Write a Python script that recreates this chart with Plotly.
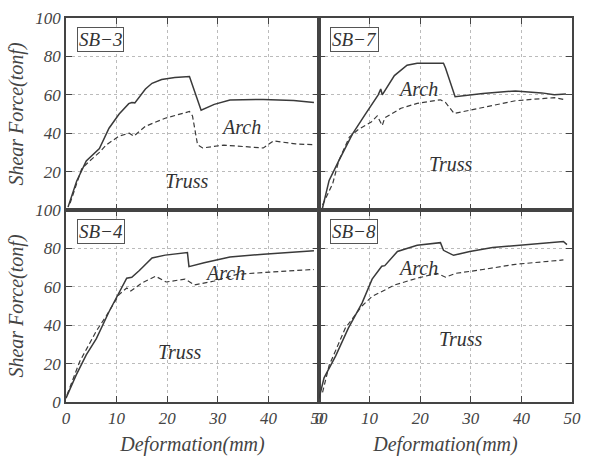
import plotly.graph_objects as go

# ---- data ----
sb3_arch_x = [0.4, 2.1, 4, 6.6, 8.5, 10.5, 12.4, 13, 13.6, 15.7, 17, 18.9, 21.5, 24.4, 26.7, 29.3, 32.4, 39, 45, 49]
sb3_arch_y = [1.5, 15, 25.6, 32, 42.6, 50, 55.4, 56, 55.8, 63, 66, 68, 69, 69.5, 52, 55, 57.3, 57.6, 57, 56]
sb3_truss_x = [0.8, 3.1, 4.7, 6.6, 8, 10.5, 12.5, 13.4, 15.7, 19.6, 24.4, 25, 26, 27, 31.2, 39, 41, 45.4, 49]
sb3_truss_y = [3.5, 21.5, 25.6, 30, 34, 38.5, 40, 38.5, 43.6, 47.8, 51.3, 49, 34, 32.3, 33.8, 32.3, 36, 34.4, 34]

sb7_arch_x = [0.6, 2, 3.9, 6.6, 9.1, 11.7, 12.2, 12.5, 14.9, 17.4, 19.4, 24.6, 25, 26.9, 32.4, 38.8, 44, 46.5, 48.8]
sb7_arch_y = [0, 15.4, 25.6, 39.5, 49.7, 60, 63, 60, 70, 75.4, 76.4, 76.4, 74, 59, 60.7, 62, 61, 60, 60.4]
sb7_truss_x = [0.7, 2.7, 3.9, 6, 7.8, 10.4, 11.5, 12.5, 13, 16.2, 19.4, 24, 25, 26.7, 28, 32.4, 38.8, 44, 46.5, 48.8]
sb7_truss_y = [2.6, 13.7, 25.6, 38, 42, 46, 49, 44, 48, 53, 55.5, 57.4, 56, 50.3, 51, 53.3, 56.9, 58, 58.5, 57.4]

sb4_arch_x = [0, 2, 4, 6, 8.5, 11, 12, 13, 14.5, 17, 19.6, 24, 24.3, 27.3, 32.4, 39, 45.4, 49]
sb4_arch_y = [2, 14, 24.5, 33, 47, 59.4, 64.5, 65, 68.5, 75, 76.5, 77.8, 70.5, 72.5, 75.5, 77, 78.3, 78.8]
sb4_truss_x = [0.2, 2.7, 6, 8, 10.5, 12, 12.8, 15, 17.7, 19.8, 23.5, 25.4, 29.3, 33.8, 45.4, 49]
sb4_truss_y = [3.7, 21, 37, 45, 56, 59.4, 57.8, 62, 65.5, 62.5, 64, 61, 63, 66.5, 68.5, 69]

sb8_arch_x = [0, 1, 3.3, 5.8, 8.5, 10.5, 12.4, 13, 15.5, 19.4, 24, 24.6, 26.6, 29.8, 34.3, 42, 48.3, 49]
sb8_arch_y = [1.8, 12.6, 24, 38.5, 51.5, 64, 70.7, 71, 78.4, 81.6, 83, 79, 76.4, 78.4, 80.5, 82, 83.6, 82]
sb8_truss_x = [0.7, 2, 5.2, 8.5, 10.5, 12.4, 15, 19.4, 23.3, 25, 27, 32.4, 38.8, 48.3]
sb8_truss_y = [5, 19, 38.5, 50, 55, 57.7, 61, 64.5, 67, 65, 67, 69, 71.7, 74]

x_ticks = [0, 10, 20, 30, 40, 50]
y_ticks = [0, 20, 40, 60, 80, 100]

panels = [
    ("SB\u22123", "x", "y", sb3_arch_x, sb3_arch_y, sb3_truss_x, sb3_truss_y, (34.5, 43), (24, 15)),
    ("SB\u22127", "x2", "y2", sb7_arch_x, sb7_arch_y, sb7_truss_x, sb7_truss_y, (19.5, 63), (26, 24)),
    ("SB\u22124", "x3", "y3", sb4_arch_x, sb4_arch_y, sb4_truss_x, sb4_truss_y, (31.5, 67), (22.5, 26)),
    ("SB\u22128", "x4", "y4", sb8_arch_x, sb8_arch_y, sb8_truss_x, sb8_truss_y, (19.5, 70), (28, 33)),
]

SERIF = "Liberation Serif, Times New Roman, serif"
LINE = "#3a3a3a"

fig = go.Figure()
annotations = []
for name, xa, ya, ax, ay, tx, ty, apos, tpos in panels:
    fig.add_trace(go.Scatter(x=ax, y=ay, xaxis=xa, yaxis=ya, mode="lines",
                             line=dict(color=LINE, width=1.5), showlegend=False))
    fig.add_trace(go.Scatter(x=tx, y=ty, xaxis=xa, yaxis=ya, mode="lines",
                             line=dict(color=LINE, width=1.2, dash="5px,3px"), showlegend=False))
    xref = xa + " domain"
    yref = ya + " domain"
    annotations.append(dict(text=name, xref=xref, yref=yref, x=0.045, y=0.89,
                            xanchor="left", yanchor="middle", showarrow=False,
                            font=dict(family=SERIF, size=19, color="#333", style="italic"),
                            bordercolor="#555", borderwidth=1, borderpad=1, bgcolor="white"))
    annotations.append(dict(text="Arch", xref=xa, yref=ya, x=apos[0], y=apos[1],
                            showarrow=False,
                            font=dict(family=SERIF, size=20, color="#333", style="italic")))
    annotations.append(dict(text="Truss", xref=xa, yref=ya, x=tpos[0], y=tpos[1],
                            showarrow=False,
                            font=dict(family=SERIF, size=20, color="#333", style="italic")))

tickfont = dict(family=SERIF, size=17, color="#444", style="italic")
titlefont = dict(family=SERIF, size=20, color="#444", style="italic")

def xaxis(domain, anchor, labels, title=None):
    d = dict(domain=domain, anchor=anchor, range=[0, 50], tickvals=x_ticks,
             showticklabels=labels, ticks="inside", ticklen=6, tickwidth=1.3,
             tickcolor="#444", showline=True, linecolor="#444", linewidth=1.5,
             mirror="ticks", showgrid=True, gridcolor="#bbbbbb", griddash="dot",
             gridwidth=1, zeroline=False, tickfont=tickfont)
    if title:
        d["title"] = dict(text=title, font=titlefont, standoff=10)
    return d

def yaxis(domain, anchor, vals, labels, title=None):
    d = dict(domain=domain, anchor=anchor, range=[0, 100], tickvals=y_ticks,
             ticktext=[str(v) if v in vals else "" for v in y_ticks],
             showticklabels=labels, ticks="inside", ticklen=6, tickwidth=1.3,
             tickcolor="#444", showline=True, linecolor="#444", linewidth=1.5,
             mirror="ticks", showgrid=True, gridcolor="#bbbbbb", griddash="dot",
             gridwidth=1, zeroline=False, tickfont=tickfont)
    if title:
        d["title"] = dict(text=title, font=titlefont, standoff=6)
    return d

fig.update_layout(
    width=590, height=461,
    margin=dict(l=66, r=9, t=15, b=57),
    paper_bgcolor="white", plot_bgcolor="white",
    xaxis=xaxis([0, 0.5], "y", False),
    yaxis=yaxis([0.5, 1], "x", [20, 40, 60, 80, 100], True, "Shear Force(tonf)"),
    xaxis2=xaxis([0.5, 1], "y2", False),
    yaxis2=yaxis([0.5, 1], "x2", [], False),
    xaxis3=xaxis([0, 0.5], "y3", True, "Deformation(mm)"),
    yaxis3=yaxis([0, 0.5], "x3", y_ticks, True, "Shear Force(tonf)"),
    xaxis4=xaxis([0.5, 1], "y4", True, "Deformation(mm)"),
    yaxis4=yaxis([0, 0.5], "x4", [], False),
    annotations=annotations,
)

fig.write_html("out.html")
